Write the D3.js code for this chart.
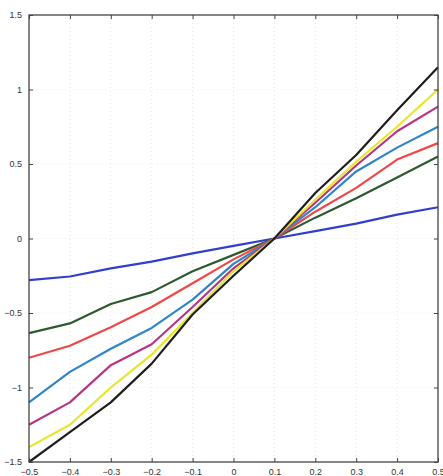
<!DOCTYPE html>
<html><head><meta charset="utf-8">
<script src="https://cdn.jsdelivr.net/npm/d3@7"></script>
<style>body{margin:0;background:#fff}svg{display:block}</style>
</head><body>
<svg id="c" width="443" height="476"></svg>
<script>
const xValues = [-0.5,-0.4,-0.3,-0.2,-0.1,0,0.1,0.2,0.3,0.4,0.5];
const blackSeries   = [-1.5,-1.30,-1.10,-0.84,-0.51,-0.25,0,0.305,0.56,0.86,1.15];
const yellowSeries  = [-1.40,-1.25,-1.0,-0.78,-0.50,-0.22,0,0.26,0.515,0.75,1.0];
const magentaSeries = [-1.25,-1.10,-0.85,-0.71,-0.46,-0.20,0,0.24,0.49,0.72,0.885];
const cyanSeries    = [-1.10,-0.895,-0.74,-0.60,-0.41,-0.17,0,0.21,0.45,0.61,0.75];
const redSeries     = [-0.80,-0.72,-0.595,-0.46,-0.30,-0.14,0,0.18,0.34,0.53,0.64];
const greenSeries   = [-0.635,-0.57,-0.44,-0.36,-0.22,-0.11,0,0.14,0.27,0.41,0.55];
const blueSeries    = [-0.28,-0.255,-0.2,-0.155,-0.10,-0.05,0,0.05,0.10,0.16,0.21];
const xTicks = [-0.5,-0.4,-0.3,-0.2,-0.1,0,0.1,0.2,0.3,0.4,0.5];
const yTicks = [-1.5,-1,-0.5,0,0.5,1,1.5];

const series = [
  {values: blueSeries, color: "#3040cc"},
  {values: greenSeries, color: "#2e5a30"},
  {values: redSeries, color: "#f04848"},
  {values: cyanSeries, color: "#2f86c6"},
  {values: magentaSeries, color: "#b83585"},
  {values: yellowSeries, color: "#e6e62a"},
  {values: blackSeries, color: "#1e1e1e"}
];

const L=29, R=438, T=15, B=462;
const svg = d3.select("#c");
const x = d3.scaleLinear().domain([-0.5,0.5]).range([L,R]);
const y = d3.scaleLinear().domain([-1.5,1.5]).range([B,T]);

// faint grid
const g = svg.append("g");
g.selectAll("line.vx").data(xTicks.slice(1,-1)).join("line")
  .attr("x1",d=>x(d)).attr("x2",d=>x(d)).attr("y1",T).attr("y2",B)
  .attr("stroke","#e4e4e4").attr("stroke-width",1).attr("stroke-dasharray","1,3");
g.selectAll("line.hy").data(yTicks.slice(1,-1)).join("line")
  .attr("y1",d=>y(d)).attr("y2",d=>y(d)).attr("x1",L).attr("x2",R)
  .attr("stroke","#ececec").attr("stroke-width",1).attr("stroke-dasharray","1,3");

// lines
const line = d3.line().x((d,i)=>x(xValues[i])).y(d=>y(d));
svg.append("g").selectAll("path").data(series).join("path")
  .attr("d",d=>line(d.values)).attr("fill","none")
  .attr("stroke",d=>d.color).attr("stroke-width",2.2)
  .attr("stroke-linejoin","round");

// axes
const fmt = d=> d===0 ? "0" : d3.format("")(d).replace("-","\u2212");
const axStyle = sel => {
  sel.select(".domain").remove();
  sel.selectAll(".tick line").attr("stroke","#444");
  sel.selectAll(".tick text").attr("fill","#333").style("font-family","'Liberation Sans',Arial,sans-serif").style("font-size","9px");
};
svg.append("g").attr("transform",`translate(0,${B})`)
  .call(d3.axisBottom(x).tickValues(xTicks).tickFormat(fmt).tickSizeInner(-4).tickSizeOuter(0).tickPadding(7))
  .call(axStyle);
svg.append("g").attr("transform",`translate(0,${T})`)
  .call(d3.axisTop(x).tickValues(xTicks).tickFormat("").tickSizeInner(-4).tickSizeOuter(0))
  .call(axStyle);
svg.append("g").attr("transform",`translate(${L},0)`)
  .call(d3.axisLeft(y).tickValues(yTicks).tickFormat(fmt).tickSizeInner(-4).tickSizeOuter(0).tickPadding(7))
  .call(axStyle);
svg.append("g").attr("transform",`translate(${R},0)`)
  .call(d3.axisRight(y).tickValues(yTicks).tickFormat("").tickSizeInner(-4).tickSizeOuter(0))
  .call(axStyle);

svg.append("rect").attr("x",L).attr("y",T).attr("width",R-L).attr("height",B-T)
  .attr("fill","none").attr("stroke","#444").attr("stroke-width",1.3);
</script>
</body></html>
